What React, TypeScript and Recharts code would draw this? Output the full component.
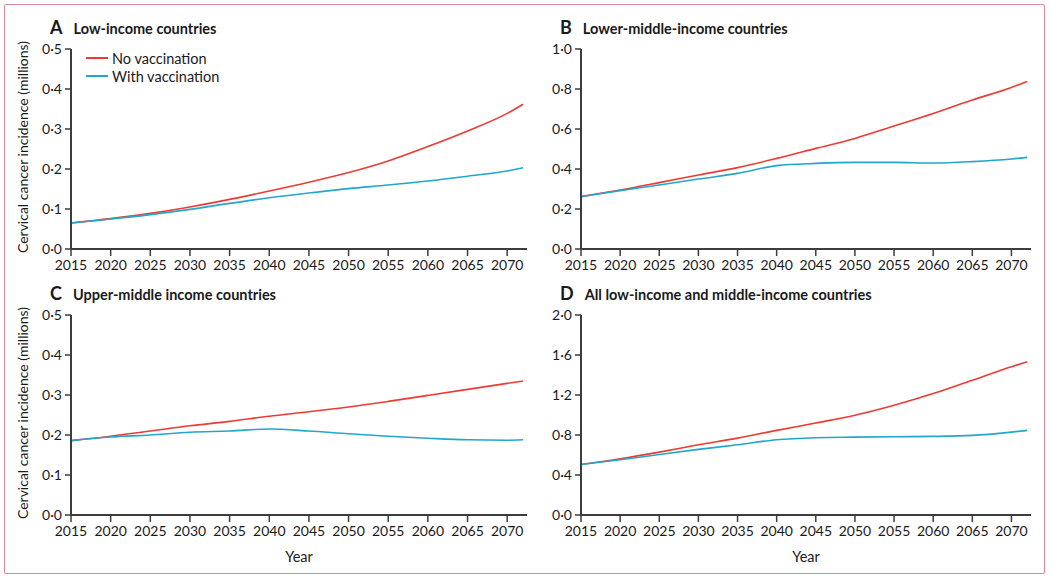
import { LineChart, Line, XAxis, YAxis } from "recharts"

const YEARS = [2015, 2020, 2025, 2030, 2035, 2040, 2045, 2050, 2055, 2060, 2065, 2070, 2072]
const X_TICKS = [2015, 2020, 2025, 2030, 2035, 2040, 2045, 2050, 2055, 2060, 2065, 2070]

// incidence in millions
const lowNoVacc = [0.065, 0.076, 0.089, 0.105, 0.124, 0.145, 0.167, 0.191, 0.22, 0.256, 0.295, 0.339, 0.362]
const lowVacc = [0.065, 0.075, 0.086, 0.099, 0.114, 0.128, 0.14, 0.151, 0.16, 0.17, 0.182, 0.195, 0.203]

const lowerMidNoVacc = [0.262, 0.295, 0.332, 0.37, 0.407, 0.453, 0.503, 0.553, 0.615, 0.678, 0.745, 0.808, 0.838]
const lowerMidVacc = [0.262, 0.292, 0.32, 0.35, 0.378, 0.417, 0.428, 0.433, 0.433, 0.43, 0.437, 0.45, 0.458]

const upperMidNoVacc = [0.186, 0.197, 0.21, 0.223, 0.234, 0.247, 0.258, 0.27, 0.284, 0.299, 0.314, 0.329, 0.335]
const upperMidVacc = [0.186, 0.195, 0.2, 0.207, 0.21, 0.215, 0.21, 0.203, 0.197, 0.192, 0.188, 0.187, 0.188]

const allNoVacc = [0.505, 0.562, 0.629, 0.702, 0.769, 0.846, 0.92, 0.997, 1.097, 1.214, 1.348, 1.482, 1.532]
const allVacc = [0.505, 0.552, 0.605, 0.656, 0.702, 0.753, 0.773, 0.779, 0.783, 0.786, 0.796, 0.829, 0.846]

const ticksHalf = [0, 0.1, 0.2, 0.3, 0.4, 0.5]
const ticksOne = [0, 0.2, 0.4, 0.6, 0.8, 1.0]
const ticksTwo = [0, 0.4, 0.8, 1.2, 1.6, 2.0]

const RED = "#ee3a32"
const BLUE = "#22a6cc"
const AXIS = "#3d3d3d"
const FONT = "Lato, 'Open Sans', sans-serif"

const fmt = (v: number) => v.toFixed(1).replace(".", "·")

function makeRows(noVacc: number[], vacc: number[]) {
  return YEARS.map((year, i) => ({ year, noVacc: noVacc[i], vacc: vacc[i] }))
}

interface PanelProps {
  letter: string
  title: string
  plotLeft: number
  plotTop: number
  plotWidth: number
  yTicks: number[]
  noVacc: number[]
  vacc: number[]
  yLabel?: boolean
  legend?: boolean
  xLabel?: boolean
}

function Panel({ letter, title, plotLeft, plotTop, plotWidth, yTicks, noVacc, vacc, yLabel, legend, xLabel }: PanelProps) {
  const data = makeRows(noVacc, vacc)
  const axisW = 50
  const topPad = 10
  const plotH = 200
  const xAxisH = 40
  return (
    <>
      <div
        style={{
          position: "absolute",
          left: plotLeft - 21,
          top: plotTop - 33,
          fontFamily: FONT,
          fontWeight: 700,
          fontSize: 14.5,
          color: "#1a1a1a",
          whiteSpace: "nowrap",
        }}
      >
        <span style={{ fontSize: 18, marginRight: 11 }}>{letter}</span>
        {title}
      </div>
      {yLabel && (
        <div
          style={{
            position: "absolute",
            left: 22,
            top: plotTop + plotH / 2 - 2,
            transform: "translate(-50%, -50%) rotate(-90deg)",
            fontFamily: FONT,
            fontSize: 14,
            color: "#1a1a1a",
            whiteSpace: "nowrap",
          }}
        >
          Cervical cancer incidence (millions)
        </div>
      )}
      {legend && (
        <div style={{ position: "absolute", left: plotLeft + 15, top: plotTop, fontFamily: FONT, fontSize: 14.5, color: "#1a1a1a" }}>
          {[
            { c: RED, t: "No vaccination" },
            { c: BLUE, t: "With vaccination" },
          ].map((it) => (
            <div key={it.t} style={{ display: "flex", alignItems: "center", height: 18 }}>
              <span style={{ display: "inline-block", width: 22, height: 1.6, background: it.c, marginRight: 4 }} />
              {it.t}
            </div>
          ))}
        </div>
      )}
      <div style={{ position: "absolute", left: plotLeft - axisW, top: plotTop - topPad }}>
        <LineChart
          width={axisW + plotWidth + 10}
          height={topPad + plotH + xAxisH}
          data={data}
          margin={{ top: topPad, right: 10, left: 0, bottom: 0 }}
        >
          <XAxis
            dataKey="year"
            type="number"
            domain={[2015, 2072.5]}
            ticks={X_TICKS}
            interval={0}
            height={xAxisH}
            tickSize={7}
            tickMargin={4}
            axisLine={{ stroke: AXIS, strokeWidth: 2 }}
            tickLine={{ stroke: AXIS, strokeWidth: 1.5 }}
            tick={{ fontSize: 14, fill: "#1a1a1a", fontFamily: FONT }}
          />
          <YAxis
            type="number"
            domain={[0, yTicks[yTicks.length - 1]]}
            ticks={yTicks}
            interval={0}
            width={axisW}
            tickSize={6}
            tickMargin={3}
            tickFormatter={fmt}
            axisLine={{ stroke: AXIS, strokeWidth: 2 }}
            tickLine={{ stroke: AXIS, strokeWidth: 1.5 }}
            tick={{ fontSize: 14, fill: "#1a1a1a", fontFamily: FONT }}
          />
          <Line type="monotone" dataKey="noVacc" stroke={RED} strokeWidth={1.6} dot={false} isAnimationActive={false} />
          <Line type="monotone" dataKey="vacc" stroke={BLUE} strokeWidth={1.6} dot={false} isAnimationActive={false} />
        </LineChart>
      </div>
      {xLabel && (
        <div
          style={{
            position: "absolute",
            left: plotLeft + plotWidth / 2,
            top: plotTop + plotH + 33,
            transform: "translateX(-50%)",
            fontFamily: FONT,
            fontSize: 14.5,
            color: "#1a1a1a",
          }}
        >
          Year
        </div>
      )}
    </>
  )
}

export default function App() {
  return (
    <div style={{ position: "absolute", left: 0, top: 0, width: 1050, height: 579, background: "#fff" }}>
      <div
        style={{
          position: "absolute",
          left: 4,
          top: 4,
          width: 1039,
          height: 568,
          border: "1.5px solid #d9879c",
          borderRadius: 2,
        }}
      />
      <Panel letter="A" title="Low-income countries" plotLeft={71} plotTop={49} plotWidth={456} yTicks={ticksHalf} noVacc={lowNoVacc} vacc={lowVacc} yLabel legend />
      <Panel letter="B" title="Lower-middle-income countries" plotLeft={581} plotTop={49} plotWidth={450} yTicks={ticksOne} noVacc={lowerMidNoVacc} vacc={lowerMidVacc} />
      <Panel letter="C" title="Upper-middle income countries" plotLeft={71} plotTop={315} plotWidth={456} yTicks={ticksHalf} noVacc={upperMidNoVacc} vacc={upperMidVacc} yLabel xLabel />
      <Panel letter="D" title="All low-income and middle-income countries" plotLeft={581} plotTop={315} plotWidth={450} yTicks={ticksTwo} noVacc={allNoVacc} vacc={allVacc} xLabel />
    </div>
  )
}
